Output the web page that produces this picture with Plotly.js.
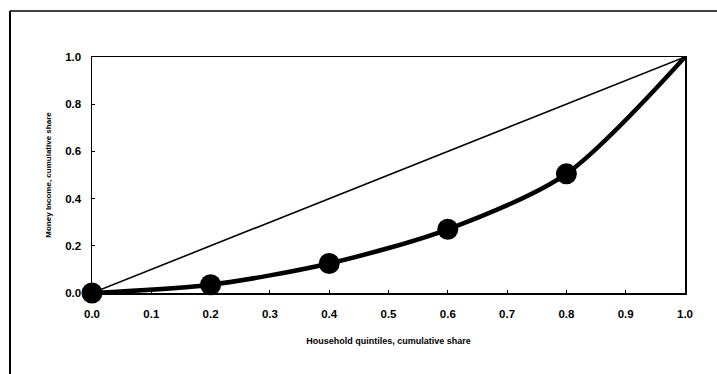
<!DOCTYPE html>
<html><head><meta charset="utf-8">
<script src="https://cdn.plot.ly/plotly-3.0.1.min.js"></script>
<style>html,body{margin:0;padding:0;background:#fff}#chart{width:717px;height:374px}</style>
</head><body><div id="chart"></div>
<script>
const quintiles = [0.0, 0.2, 0.4, 0.6, 0.8, 1.0];
const incomeShare = [0.0, 0.035, 0.125, 0.27, 0.505, 1.0];
const equality = [0.0, 1.0];
const tickVals = [0, 0.1, 0.2, 0.3, 0.4, 0.5, 0.6, 0.7, 0.8, 0.9, 1.0];
const yTickVals = [0, 0.2, 0.4, 0.6, 0.8, 1.0];

const W = 717, H = 374, L = 92, R = 32, T = 57, B = 81;
const pw = W - L - R, ph = H - T - B;
const px = v => (v - L) / pw;
const py = v => (H - B - v) / ph;

const traces = [
  {x: equality, y: equality, mode: 'lines', line: {color: '#000', width: 1.6}, hoverinfo: 'skip', cliponaxis: false},
  {x: quintiles, y: incomeShare, mode: 'lines', line: {color: '#000', width: 4.5, shape: 'spline', smoothing: 0.8}, cliponaxis: false},
  {x: quintiles.slice(0, 5), y: incomeShare.slice(0, 5), mode: 'markers', marker: {color: '#000', size: 21}, cliponaxis: false}
];
const tf = {family: 'Liberation Sans, Arial, sans-serif', size: 11.5, color: '#000', weight: 'bold'};
const layout = {
  width: W, height: H, showlegend: false,
  margin: {l: L, r: R, t: T, b: B},
  paper_bgcolor: '#fff', plot_bgcolor: '#fff',
  xaxis: {range: [0, 1], tickvals: tickVals, ticktext: tickVals.map(v => v.toFixed(1)),
    showgrid: false, zeroline: false, showline: true, linecolor: '#000', linewidth: 1.5, mirror: true,
    ticks: 'inside', ticklen: 3, tickcolor: '#000', tickfont: tf, ticklabelstandoff: 10,
    title: {text: 'Household quintiles, cumulative share', font: {family: 'Liberation Sans, Arial, sans-serif', size: 9, color: '#000', weight: 'bold'}, standoff: 18}},
  yaxis: {range: [0, 1], tickvals: yTickVals, ticktext: yTickVals.map(v => v.toFixed(1)),
    showgrid: false, zeroline: false, showline: true, linecolor: '#000', linewidth: 1.5, mirror: true,
    ticks: 'inside', ticklen: 3, tickcolor: '#000', tickfont: tf, ticklabelstandoff: 7,
    title: {text: 'Money Income, cumulative share', font: {family: 'Liberation Sans, Arial, sans-serif', size: 8, color: '#000', weight: 'bold'}, standoff: 12}},
  shapes: [
    {type: 'line', xref: 'paper', yref: 'paper', x0: px(10), x1: px(10), y0: py(11), y1: py(374), line: {color: '#000', width: 2}},
    {type: 'line', xref: 'paper', yref: 'paper', x0: px(10), x1: px(717), y0: py(11), y1: py(11), line: {color: '#000', width: 1.5}}
  ]
};
Plotly.newPlot('chart', traces, layout, {displayModeBar: false, staticPlot: true});
</script></body></html>
